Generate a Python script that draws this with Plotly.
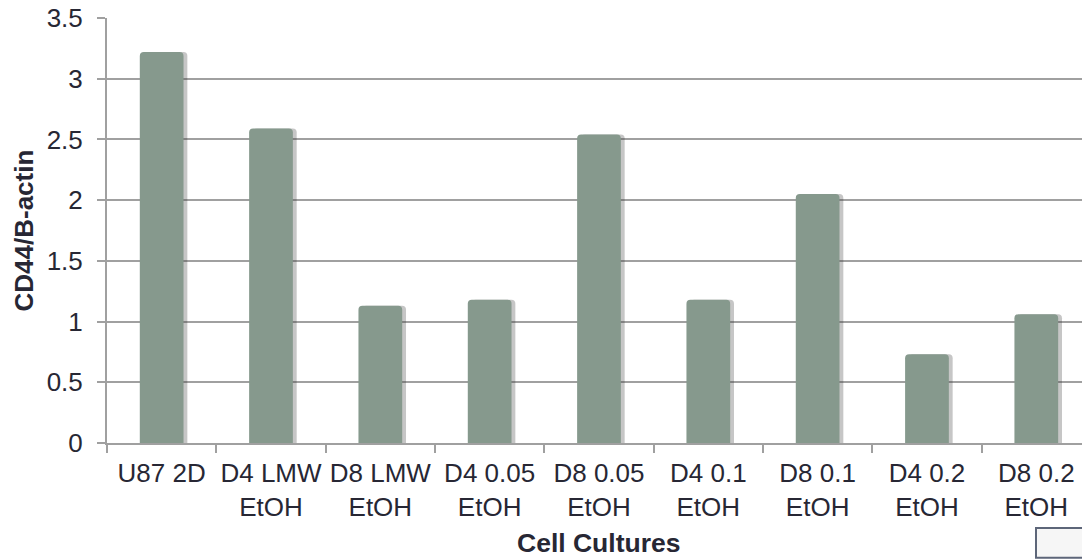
import plotly.graph_objects as go

# CD44 expression normalised to beta-actin for each culture condition
cultures = ["U87 2D", "D4 LMW<br>EtOH", "D8 LMW<br>EtOH", "D4 0.05<br>EtOH",
            "D8 0.05<br>EtOH", "D4 0.1<br>EtOH", "D8 0.1<br>EtOH",
            "D4 0.2<br>EtOH", "D8 0.2<br>EtOH"]
cd44_ratio = [3.22, 2.59, 1.13, 1.18, 2.54, 1.18, 2.05, 0.73, 1.06]
y_ticks = [0, 0.5, 1, 1.5, 2, 2.5, 3, 3.5]
y_tick_text = ["0", "0.5", "1", "1.5", "2", "2.5", "3", "3.5"]

FONT = "Liberation Sans, Arial, sans-serif"
TEXT = "#272734"
GRID = "#a0a0a0"
PLOT_W = 975  # plot-area width in px (figure width minus left margin)

fig = go.Figure()

# soft drop shadow on the right of each column
fig.add_trace(go.Bar(
    x=cultures, y=cd44_ratio, width=0.4, offset=-0.165,
    marker=dict(color="rgba(50,50,50,0.28)", cornerradius=4, line=dict(width=0)),
    hoverinfo="skip", showlegend=False,
))
# main columns
fig.add_trace(go.Bar(
    x=cultures, y=cd44_ratio, width=0.4, offset=-0.2,
    marker=dict(color="#86998d", cornerradius=4, line=dict(width=0)),
    showlegend=False,
))

fig.update_layout(
    width=1082, height=559,
    margin=dict(l=107, r=0, t=18, b=116),
    paper_bgcolor="white", plot_bgcolor="white",
    font=dict(family=FONT, size=26, color=TEXT),
    barmode="overlay",
    xaxis=dict(
        type="category", range=[-0.5, 8.418], automargin=False,
        showline=True, linecolor=GRID, linewidth=2,
        ticks="outside", tickson="boundaries", ticklen=8, tickwidth=2,
        tickcolor=GRID, tickfont=dict(size=26, color=TEXT), tickangle=0,
        ticklabelstandoff=6,
        showgrid=False, fixedrange=True,
    ),
    yaxis=dict(
        range=[0, 3.5], tickvals=y_ticks, ticktext=y_tick_text, automargin=False,
        showline=True, linecolor=GRID, linewidth=2,
        ticks="outside", ticklen=8, tickwidth=2, tickcolor=GRID,
        ticklabelstandoff=9,
        showgrid=True, gridcolor=GRID, gridwidth=2,
        zeroline=False, tickfont=dict(size=26, color=TEXT),
    ),
    annotations=[
        dict(text="<b>Cell Cultures</b>", x=4, xref="x", y=-0.235, yref="paper",
             xanchor="center", yanchor="middle", showarrow=False,
             font=dict(size=26.5, color=TEXT)),
        dict(text="<b>CD44/B-actin</b>", x=(23 - 107) / PLOT_W, xref="paper",
             y=0.5, yref="paper", textangle=-90,
             xanchor="center", yanchor="middle", showarrow=False,
             font=dict(size=26, color=TEXT)),
    ],
    shapes=[dict(
        type="rect", xref="paper", yref="paper",
        x0=(1036 - 107) / PLOT_W, x1=1.01, y0=-0.27, y1=-0.2,
        line=dict(color="#5d6679", width=2), fillcolor="#f6f6f6",
    )],
)

fig.write_html("out.html")
